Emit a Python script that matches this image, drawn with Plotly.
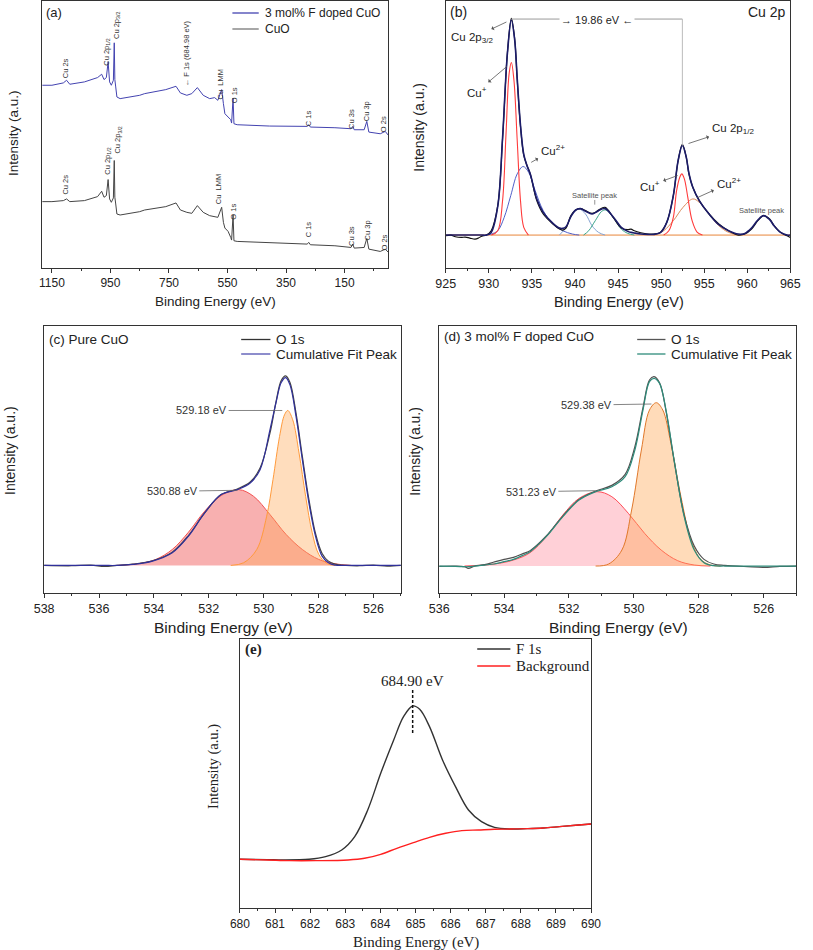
import plotly.graph_objects as go

W, H = 813, 950
SANS = "Liberation Sans, Arial, sans-serif"
SERIF = "Liberation Serif, Times New Roman, serif"

# ---------------- Panel (a): survey spectra ----------------
survey_be = [1183.3, 1150, 1111, 1100, 1089, 1039, 994, 980, 972, 964, 958, 953, 947, 940, 937, 935,
             932, 928, 917, 850, 833, 761, 726, 711, 689, 672, 653, 633, 611, 594, 583, 570, 564,
             559, 548, 539, 536, 531, 528, 517, 406, 278, 272, 267, 183, 128, 122, 117, 83, 74, 67,
             28, 11, 0]
survey_doped = [545, 545, 552, 560, 548, 555, 568, 578, 562, 568, 615, 555, 545, 560, 672, 562,
                540, 510, 505, 515, 520, 532, 542, 522, 515, 520, 538, 515, 505, 508, 500, 532, 490,
                460, 450, 442, 432, 507, 430, 427, 423, 422, 427, 420, 418, 415, 422, 412, 412, 437,
                405, 400, 407, 395]
survey_cuo = [197, 197, 200, 205, 197, 200, 212, 228, 210, 215, 263, 205, 195, 208, 320, 210,
              190, 160, 157, 167, 172, 182, 193, 172, 165, 162, 185, 165, 155, 152, 150, 180, 135,
              118, 108, 90, 82, 157, 80, 78, 75, 70, 75, 68, 65, 60, 70, 58, 60, 87,
              55, 48, 55, 45]
survey_ticks = [1150, 950, 750, 550, 350, 150]
survey_minor = [1050, 850, 650, 450, 250, 50]
# peak labels: (text, BE, intensity)
survey_labels_doped = [("Cu 2s", 1103, 595), ("Cu 2p<sub>1/2</sub>", 961, 643),
                       ("Cu 2p<sub>3/2</sub>", 928, 725), ("\u2190 F 1s (684.98 eV)", 689, 640),
                       ("Cu  LMM", 575, 548), ("O 1s", 528, 515), ("C 1s", 272, 446),
                       ("Cu 3s", 126, 443), ("Cu 3p", 76, 468), ("O 2s", 17, 430)]
survey_labels_cuo = [("Cu 2s", 1103, 247), ("Cu 2p<sub>1/2</sub>", 961, 317),
                     ("Cu 2p<sub>3/2</sub>", 925, 382), ("Cu  LMM", 578, 235),
                     ("O 1s", 530, 168), ("C 1s", 274, 115), ("Cu 3s", 126, 93),
                     ("Cu 3p", 72, 112), ("O 2s", 15, 75)]

# ---------------- Panel (b): Cu 2p ----------------
cu_be = [925, 925.6, 926.13, 926.8, 927.26, 927.8, 928.4, 928.8, 929.2, 929.72, 930.28, 931.04,
         931.6, 932.17, 932.62, 933.0, 933.3, 933.68, 934.06, 934.43, 934.81, 935.57, 936.32,
         937.45, 938.21, 938.58, 938.96, 939.53, 940.09, 940.66, 941.23, 941.98, 942.36, 942.74,
         943.49, 944.43, 945.38, 946.13, 946.51, 946.89, 947.64, 948.5, 949.15, 949.91, 950.66,
         951.42, 951.98, 952.47, 952.92, 953.23, 953.68, 954.43, 955.57, 956.7, 957.83, 958.96,
         959.72, 960.5, 961.23, 961.9, 962.6, 963.11, 963.87, 964.62, 965]
cu_data = [95, 97, 92, 90, 91, 88, 85, 88, 94, 97, 110, 185, 385, 645, 745, 685, 562, 422, 336,
           305, 280, 200, 160, 130, 115, 112, 118, 155, 172, 176, 170, 162, 165, 172, 180, 150,
           118, 113, 115, 110, 104, 100, 100, 105, 135, 215, 320, 368, 330, 280, 240, 200, 160,
           130, 110, 97, 100, 115, 140, 155, 145, 125, 105, 95, 90]
cu_env = [97, 97, 97, 97, 97, 97, 97, 97, 97, 97, 105, 183, 388, 643, 740, 682, 565, 425, 338,
          305, 280, 205, 165, 132, 118, 117, 122, 152, 172, 176, 168, 160, 164, 170, 176, 152,
          120, 108, 105, 103, 100, 99, 99, 104, 135, 215, 320, 365, 330, 282, 240, 200, 160,
          128, 110, 100, 102, 118, 142, 155, 143, 125, 105, 97, 97]
cu1_32_be = [930.3, 931.04, 931.6, 932.0, 932.36, 932.62, 932.92, 933.3, 933.68, 934.06, 934.6]
cu1_32_i = [97, 110, 200, 400, 580, 613, 560, 380, 200, 120, 97]
cu2_32_be = [929.7, 930.28, 931.04, 931.79, 932.55, 933.3, 933.98, 934.62, 935.38, 936.32,
             937.45, 938.58, 939.72, 940.5]
cu2_32_i = [97, 100, 110, 150, 215, 280, 302, 285, 230, 170, 130, 110, 100, 97]
sat1_be = [938.2, 938.96, 939.72, 940.47, 941.23, 941.98, 942.74, 943.5]
sat1_i = [97, 120, 160, 175, 160, 125, 105, 97]
sat2_be = [941.0, 941.6, 942.36, 943.11, 943.6, 944.43, 945.38, 946.13, 946.9]
sat2_i = [97, 110, 140, 168, 172, 150, 115, 102, 97]
cu1_12_be = [950.3, 950.9, 951.42, 951.8, 952.17, 952.4, 952.7, 953.1, 953.6, 954.2, 954.8]
cu1_12_i = [97, 110, 150, 230, 270, 280, 265, 210, 140, 105, 97]
cu2_12_be = [949.2, 950.3, 951.42, 952.55, 953.68, 954.43, 955.57, 956.7, 957.83, 959.0]
cu2_12_i = [97, 110, 140, 180, 205, 195, 160, 125, 105, 97]
cu_baseline_be = [925, 965]
cu_baseline_i = [97, 97]
cu_ticks = [925, 930, 935, 940, 945, 950, 955, 960, 965]
cu_minor = [927.5, 932.5, 937.5, 942.5, 947.5, 952.5, 957.5, 962.5]

# ---------------- Panel (c): O 1s pure CuO ----------------
oc_be = [538, 537.0, 536.3, 535.8, 535.35, 534.76, 534.05, 533.33, 532.74, 532.15, 531.55,
         530.96, 530.49, 530.13, 529.77, 529.54, 529.36, 529.2, 529.04, 528.82, 528.59, 528.35,
         528.11, 527.87, 527.64, 527.4, 527.0, 526.5, 526.0, 525.5, 525]
oc_data = [82, 81, 83, 79, 82, 86, 96, 122, 172, 240, 295, 312, 333, 375, 480, 578, 638, 652,
           632, 540, 410, 280, 178, 118, 95, 86, 82, 81, 83, 80, 82]
oc_env = [82, 82, 82, 82, 82, 85, 95, 120, 170, 240, 295, 310, 330, 370, 490, 575, 632, 647,
          625, 530, 400, 270, 170, 110, 90, 83, 82, 82, 82, 82, 82]
oc_p1_be = [535.35, 534.52, 533.93, 533.33, 532.74, 532.15, 531.55, 530.91, 530.37, 529.77,
            529.18, 528.59, 527.99, 527.4, 526.81]
oc_p1_i = [82, 88, 100, 130, 182, 245, 292, 310, 290, 235, 175, 130, 100, 87, 82]
oc_p2_be = [531.2, 530.73, 530.25, 529.89, 529.66, 529.42, 529.24, 529.12, 528.94, 528.71,
            528.47, 528.23, 527.99, 527.7, 527.4]
oc_p2_i = [82, 90, 130, 230, 340, 470, 535, 548, 520, 420, 290, 180, 115, 88, 82]
oc_ticks = [538, 536, 534, 532, 530, 528, 526]
oc_minor = [537, 535, 533, 531, 529, 527, 525]

# ---------------- Panel (d): O 1s F-doped CuO ----------------
od_be = [536, 535.5, 535.22, 535.1, 534.9, 534.6, 534.31, 534.0, 533.71, 533.4, 533.2, 532.7,
         532.19, 531.69, 531.18, 530.68, 530.27, 529.97, 529.72, 529.52, 529.38, 529.21, 529.01,
         528.76, 528.45, 528.14, 527.84, 527.54, 527.2, 526.5, 526.0, 525.5, 525]
od_data = [79, 80, 78, 73, 80, 84, 92, 100, 106, 118, 126, 170, 230, 280, 305, 322, 355, 438,
           555, 638, 648, 630, 545, 395, 232, 140, 100, 86, 82, 78, 76, 79, 80]
od_env = [80, 79, 78, 78, 80, 83, 86, 93, 100, 113, 123, 168, 228, 278, 303, 318, 348, 428,
          548, 633, 643, 628, 548, 398, 228, 128, 90, 81, 80, 80, 80, 80, 80]
od_p1_be = [535.22, 534.31, 533.71, 533.2, 532.7, 532.19, 531.69, 531.13, 530.68, 530.17,
            529.67, 529.16, 528.65, 528.14, 527.64]
od_p1_i = [80, 86, 98, 120, 168, 233, 283, 303, 288, 238, 178, 128, 96, 83, 80]
od_p2_be = [531.18, 530.78, 530.37, 530.07, 529.77, 529.52, 529.31, 529.11, 528.86, 528.55,
            528.24, 527.94, 527.64, 527.33]
od_p2_i = [80, 86, 128, 248, 428, 548, 570, 548, 448, 288, 158, 100, 83, 80]
od_ticks = [536, 534, 532, 530, 528, 526]
od_minor = [535, 533, 531, 529, 527, 525]

# ---------------- Panel (e): F 1s ----------------
f_be = [680, 680.77, 681.23, 681.97, 682.44, 682.9, 683.27, 683.64, 684.01, 684.38, 684.66,
        684.92, 685.12, 685.4, 685.77, 686.14, 686.51, 686.88, 687.25, 687.71, 688.18, 688.64,
        689.1, 689.56, 690]
f_data = [147, 146, 145, 147, 155, 175, 215, 295, 405, 505, 575, 607, 597, 545, 445, 365, 295,
          260, 243, 238, 239, 241, 245, 249, 253]
bg_be = [680, 680.77, 681.42, 682.16, 683.08, 683.55, 684.01, 684.47, 684.94, 685.4, 685.86,
         686.32, 686.79, 687.25, 687.71, 688.18, 688.64, 689.1, 689.56, 690]
bg_i = [147, 145, 143, 143, 145, 150, 162, 180, 197, 213, 225, 233, 235, 237, 238, 239, 241,
        245, 249, 253]
f_ticks = [680, 681, 682, 683, 684, 685, 686, 687, 688, 689, 690]
f_minor = [680.5, 681.5, 682.5, 683.5, 684.5, 685.5, 686.5, 687.5, 688.5, 689.5]


def px(x):
    return x / W


def py(y):
    return 1 - y / H


fig = go.Figure()


def add_line(x, y, ax, color, width=1.0, shape="linear", fill=None, fillcolor=None):
    fig.add_trace(go.Scatter(x=x, y=y, mode="lines", xaxis="x" + ax, yaxis="y" + ax,
                             line=dict(color=color, width=width, shape=shape, smoothing=1.0),
                             fill=fill, fillcolor=fillcolor, showlegend=False,
                             hoverinfo="skip"))


# (a)
add_line(survey_be, survey_cuo, "", "#454545", 1.0)
add_line(survey_be, survey_doped, "", "#4343b0", 1.0)
# (b)
add_line(cu_baseline_be, cu_baseline_i, "2", "#e8863a", 1.0)
add_line(cu2_32_be, cu2_32_i, "2", "#5060c8", 1.0, "spline")
add_line(sat1_be, sat1_i, "2", "#86a4d2", 1.0, "spline")
add_line(sat2_be, sat2_i, "2", "#3aa58a", 1.0, "spline")
add_line(cu2_12_be, cu2_12_i, "2", "#d98a5a", 1.0, "spline")
add_line(cu1_32_be, cu1_32_i, "2", "#ff3b3b", 1.1, "spline")
add_line(cu1_12_be, cu1_12_i, "2", "#ff3b3b", 1.1, "spline")
add_line(cu_be, cu_data, "2", "#111111", 1.2, "spline")
add_line(cu_be, cu_env, "2", "#1c1c6a", 1.6, "spline")
# (c)
add_line(oc_p1_be, oc_p1_i, "3", "#f25050", 1.0, "spline", "toself", "rgba(240,80,80,0.45)")
add_line(oc_p2_be, oc_p2_i, "3", "#ff9a3c", 1.0, "spline", "toself", "rgba(255,170,90,0.4)")
add_line(oc_be, oc_data, "3", "#444444", 1.2, "spline")
add_line(oc_be, oc_env, "3", "#30309a", 1.2, "spline")
# (d)
add_line(od_p1_be, od_p1_i, "4", "#ff4a55", 1.0, "spline", "toself", "rgba(255,120,140,0.35)")
add_line(od_p2_be, od_p2_i, "4", "#e0782a", 1.0, "spline", "toself", "rgba(255,165,80,0.4)")
add_line(od_be, od_data, "4", "#505050", 1.2, "spline")
add_line(od_be, od_env, "4", "#2e8b7a", 1.2, "spline")
# (e)
add_line(f_be, f_data, "5", "#333333", 1.4, "spline")
add_line(bg_be, bg_i, "5", "#ff2020", 1.4, "spline")

domains = {
    "": ([33, 388], [1, 267.5], [1183.3, 0], [0, 797], survey_ticks, survey_minor, 12),
    "2": ([446.7, 800], [1, 267.5], [925, 965], [0, 797], cu_ticks, cu_minor, 12.5),
    "3": ([35, 400.7], [325.7, 592.7], [538, 525], [0, 803], oc_ticks, oc_minor, 12.5),
    "4": ([440, 806], [325.7, 592.7], [536, 525], [0, 801], od_ticks, od_minor, 12.5),
    "5": ([235.7, 595.7], [639, 908.3], [680, 690], [0, 808], f_ticks, f_minor, 12),
}
for k, (dx, dy, xr, yr, tv, mv, fs) in domains.items():
    fig.layout["xaxis" + k] = dict(
        domain=[px(dx[0]), px(dx[1])], range=xr, autorange=False, anchor="y" + k,
        showline=True, mirror=True, linecolor="#333", linewidth=1, showgrid=False,
        zeroline=False, ticks="outside", ticklen=4, tickcolor="#333", tickmode="array",
        tickvals=tv, tickfont=dict(family=SANS, size=fs, color="#222"),
        minor=dict(tickvals=mv, ticks="outside", ticklen=2, tickcolor="#333"))
    fig.layout["yaxis" + k] = dict(
        domain=[py(dy[1]), py(dy[0])], range=yr, autorange=False, anchor="x" + k,
        showline=True, mirror=True, linecolor="#333", linewidth=1, showgrid=False,
        zeroline=False, showticklabels=False, ticks="")

ann = []
shapes = []


def ptext(text, x, y, size, family=SANS, xanchor="center", angle=0, color="#222"):
    ann.append(dict(text=text, x=px(x), y=py(y), xref="paper", yref="paper", showarrow=False,
                    xanchor=xanchor, yanchor="middle", textangle=angle,
                    font=dict(family=family, size=size, color=color)))


# axis titles
ptext("Binding Energy (eV)", 211, 302, 13.5)
ptext("Binding Energy (eV)", 624, 302, 14.5)
ptext("Binding Energy (eV)", 219, 627, 15.5)
ptext("Binding Energy (eV)", 624, 627, 15.5)
ptext("Binding Energy (eV)", 416, 942, 15, SERIF)
ptext("Intensity (a.u.)", 3, 133, 13.5, angle=-90)
ptext("Intensity (a.u.)", 419, 127, 14, angle=-90)
ptext("Intensity (a.u.)", 0, 451, 14, angle=-90)
ptext("Intensity (a.u.)", 415, 451, 14, angle=-90)
ptext("Intensity (a.u.)", 208, 766, 14.5, SERIF, angle=-90)

# panel labels
ptext("(a)", 35, 12, 13, xanchor="left")
ptext("(b)", 449, 12, 14, xanchor="left")
ptext("Cu 2p", 798, 12, 14, xanchor="right")
ptext("(c) Pure CuO", 38, 339.3, 13.5, xanchor="left")
ptext("(d) 3 mol% F doped CuO", 443, 336.7, 13.5, xanchor="left")
ptext("<b>(e)</b>", 239, 649, 15, SERIF, xanchor="left")


def legend_entry(x0, x1, y, color, text, size, family=SANS, width=1.3):
    shapes.append(dict(type="line", xref="paper", yref="paper", x0=px(x0), x1=px(x1),
                       y0=py(y), y1=py(y), line=dict(color=color, width=width)))
    ptext(text, x1 + 4, y, size, family, xanchor="left")


legend_entry(228, 255, 13, "#4343b0", "3 mol% F doped CuO", 12)
legend_entry(228, 255, 29, "#777777", "CuO", 12)
legend_entry(237, 267, 339.5, "#333333", "O 1s", 13.5)
legend_entry(237, 267, 354, "#5050b0", "Cumulative Fit Peak", 13.5)
legend_entry(643, 672, 339.5, "#555555", "O 1s", 13.5)
legend_entry(643, 672, 354, "#2e8b7a", "Cumulative Fit Peak", 13.5)
legend_entry(479, 513, 649, "#333333", "F 1s", 15, SERIF, 1.5)
legend_entry(479, 513, 666, "#ff2020", "Background", 15, SERIF, 1.5)

# (a) peak labels (rotated)
for t, xv, yv in survey_labels_doped + survey_labels_cuo:
    ann.append(dict(text=t, x=xv, y=yv, xref="x", yref="y", showarrow=False, textangle=-90,
                    font=dict(family=SANS, size=7.5, color="#333")))


def dtext(text, x, y, ax, size=11, color="#222", xanchor="center", family=SANS):
    ann.append(dict(text=text, x=x, y=y, xref="x" + ax, yref="y" + ax, showarrow=False,
                    xanchor=xanchor, font=dict(family=family, size=size, color=color)))


def label_arrow(text, tx, ty, hx, hy, ax, size=11.5):
    # text sits at (tx, ty); a thin arrow runs from the peak (hx, hy) to the label
    ann.append(dict(text=text, x=hx, y=hy, ax=tx, ay=ty, xref="x" + ax, yref="y" + ax,
                    axref="x" + ax, ayref="y" + ax, showarrow=True, arrowside="start",
                    arrowhead=2, arrowsize=0.9, arrowwidth=0.8, arrowcolor="#555",
                    standoff=3, startstandoff=2,
                    font=dict(family=SANS, size=size, color="#222")))


# (b) peak separation bracket, from the envelope maxima
split = 945
lo = [(v, b) for b, v in zip(cu_be, cu_env) if b < split]
hi = [(v, b) for b, v in zip(cu_be, cu_env) if b > split]
p1v, p1b = max(lo)
p2v, p2b = max(hi)
shapes.append(dict(type="line", xref="x2", yref="y2", x0=p1b, x1=p2b, y0=p1v + 3, y1=p1v + 3,
                   line=dict(color="#999", width=1)))
shapes.append(dict(type="line", xref="x2", yref="y2", x0=p2b, x1=p2b, y0=p1v + 3, y1=p2v,
                   line=dict(color="#bbb", width=1)))
mid = (p1b + p2b) / 2
ann.append(dict(text="\u2192 19.86 eV \u2190", x=mid, y=p1v - 1, xref="x2", yref="y2",
                showarrow=False, bgcolor="white",
                font=dict(family=SANS, size=11, color="#222")))

label_arrow("Cu 2p<sub>3/2</sub>", 928.0, 685, 932.36, 738, "2")
label_arrow("Cu<sup>+</sup>", 928.6, 525, 932.36, 607, "2")
label_arrow("Cu<sup>2+</sup>", 937.5, 352, 934.62, 310, "2")
dtext("Satellite peak", 942.3, 215, "2", 7.5, "#555")
shapes.append(dict(type="line", xref="x2", yref="y2", x0=942.3, x1=942.3, y0=202, y1=188,
                   line=dict(color="#777", width=0.8)))
label_arrow("Cu 2p<sub>1/2</sub>", 958.4, 415, 952.85, 368, "2")
label_arrow("Cu<sup>+</sup>", 948.7, 245, 952.25, 278, "2")
label_arrow("Cu<sup>2+</sup>", 957.9, 252, 953.87, 205, "2")
dtext("Satellite peak", 961.7, 170, "2", 7.5, "#555")

# (c), (d) component labels with leader lines
for ax, t, tx, ty, hx, hy in [("3", "529.18 eV", 532.26, 548, 529.32, 548),
                             ("3", "530.88 eV", 533.33, 305, 530.96, 308),
                             ("4", "529.38 eV", 531.46, 563, 529.46, 566),
                             ("4", "531.23 eV", 533.16, 303, 531.18, 306)]:
    ann.append(dict(text=t, x=hx, y=hy, ax=tx, ay=ty, xref="x" + ax, yref="y" + ax,
                    axref="x" + ax, ayref="y" + ax, showarrow=True, arrowhead=0,
                    arrowwidth=0.8, arrowcolor="#666", standoff=0,
                    font=dict(family=SANS, size=11, color="#333")))

# (e) peak marker
fpk_v, fpk_b = max(zip(f_data, f_be))
shapes.append(dict(type="line", xref="x5", yref="y5", x0=fpk_b, x1=fpk_b, y0=fpk_v + 48,
                   y1=fpk_v - 87, line=dict(color="#111", width=1.5, dash="3px,2px")))
dtext("684.90 eV", fpk_b, fpk_v + 76, "5", 15, "#222", family=SERIF)

fig.update_layout(width=W, height=H, margin=dict(l=0, r=0, t=0, b=0),
                  paper_bgcolor="white", plot_bgcolor="white", showlegend=False,
                  annotations=ann, shapes=shapes, font=dict(family=SANS))
fig.write_html("out.html", config={"displayModeBar": False},
               post_script="document.body.style.margin='0px';"
                           "document.body.style.overflow='hidden';")
